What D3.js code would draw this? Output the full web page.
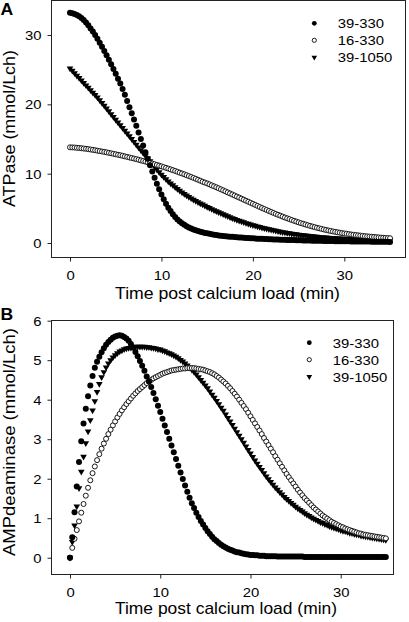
<!DOCTYPE html>
<html><head><meta charset="utf-8">
<script src="https://cdn.jsdelivr.net/npm/d3@7"></script>
<style>html,body{margin:0;padding:0;background:#fff;} svg{display:block;}</style>
</head><body>
<script>
// ---------- DATA ----------
const times = [
0,0.25,0.5,0.75, 1,1.25,1.5,1.75, 2,2.25,2.5,2.75, 3,3.25,3.5,3.75, 4,4.25,4.5,4.75,
5,5.25,5.5,5.75, 6,6.25,6.5,6.75, 7,7.25,7.5,7.75, 8,8.25,8.5,8.75, 9,9.25,9.5,9.75,
10,10.25,10.5,10.75, 11,11.25,11.5,11.75, 12,12.25,12.5,12.75, 13,13.25,13.5,13.75, 14,14.25,14.5,14.75,
15,15.25,15.5,15.75, 16,16.25,16.5,16.75, 17,17.25,17.5,17.75, 18,18.25,18.5,18.75, 19,19.25,19.5,19.75,
20,20.25,20.5,20.75, 21,21.25,21.5,21.75, 22,22.25,22.5,22.75, 23,23.25,23.5,23.75, 24,24.25,24.5,24.75,
25,25.25,25.5,25.75, 26,26.25,26.5,26.75, 27,27.25,27.5,27.75, 28,28.25,28.5,28.75, 29,29.25,29.5,29.75,
30,30.25,30.5,30.75, 31,31.25,31.5,31.75, 32,32.25,32.5,32.75, 33,33.25,33.5,33.75, 34,34.25,34.5,34.75,
35];

const seriesNames = ["39-330", "16-330", "39-1050"];

// Panel A: ATPase (mmol/Lch)
const atp_39_330 = [
33.2,33.15,33.05,32.9, 32.7,32.45,32.15,31.8, 31.4,30.95,30.5,30.0, 29.45,28.9,28.3,27.7, 27.1,26.45,25.8,25.1,
24.4,23.7,23.0,22.2, 21.4,20.5,19.6,18.7, 17.8,16.9,15.95,15.0, 14.05,13.1,12.15,11.2, 10.3,9.4,8.55,7.75,
7.0,6.3,5.65,5.1, 4.6,4.15,3.75,3.4, 3.1,2.85,2.62,2.42, 2.25,2.1,1.96,1.84, 1.73,1.63,1.54,1.46,
1.39,1.32,1.26,1.2, 1.15,1.1,1.06,1.02, 0.98,0.95,0.92,0.89, 0.86,0.83,0.8,0.78, 0.76,0.73,0.71,0.69,
0.67,0.65,0.63,0.62, 0.6,0.58,0.57,0.55, 0.54,0.52,0.51,0.5, 0.48,0.47,0.46,0.45, 0.44,0.43,0.42,0.41,
0.4,0.39,0.38,0.37, 0.36,0.35,0.34,0.33, 0.33,0.32,0.31,0.3, 0.3,0.29,0.28,0.28, 0.27,0.26,0.26,0.25,
0.25,0.24,0.24,0.23, 0.23,0.22,0.22,0.21, 0.21,0.2,0.2,0.2, 0.19,0.19,0.18,0.18, 0.18,0.17,0.17,0.17,
0.16];
const atp_16_330 = [
13.8,13.79,13.77,13.74, 13.71,13.67,13.63,13.59, 13.54,13.49,13.44,13.38, 13.32,13.26,13.2,13.14, 13.08,13.01,12.94,12.87,
12.8,12.73,12.66,12.58, 12.5,12.42,12.34,12.26, 12.18,12.1,12.01,11.92, 11.83,11.74,11.65,11.56, 11.46,11.36,11.26,11.16,
11.06,10.95,10.84,10.73, 10.62,10.51,10.39,10.27, 10.15,10.03,9.91,9.78, 9.65,9.52,9.39,9.26, 9.12,8.98,8.84,8.72,
8.6,8.46,8.32,8.18, 8.04,7.9,7.75,7.6, 7.45,7.3,7.15,7.0, 6.85,6.7,6.55,6.4, 6.25,6.1,5.95,5.8,
5.65,5.5,5.35,5.2, 5.05,4.9,4.76,4.62, 4.48,4.34,4.2,4.07, 3.94,3.81,3.68,3.56, 3.44,3.32,3.2,3.09,
2.98,2.87,2.77,2.67, 2.57,2.47,2.38,2.29, 2.2,2.12,2.04,1.96, 1.88,1.81,1.74,1.67, 1.61,1.55,1.49,1.43,
1.38,1.33,1.28,1.23, 1.19,1.15,1.11,1.07, 1.03,0.99,0.96,0.93, 0.9,0.87,0.84,0.81, 0.78,0.76,0.73,0.71,
0.69];
const atp_39_1050 = [
25.2,24.85,24.5,24.15, 23.8,23.45,23.1,22.75, 22.4,22.05,21.7,21.35, 21.0,20.6,20.2,19.8, 19.4,19.0,18.6,18.2,
17.8,17.4,17.0,16.6, 16.2,15.8,15.4,15.0, 14.6,14.2,13.8,13.4, 13.0,12.6,12.2,11.8, 11.4,11.0,10.6,10.22,
9.86,9.52,9.2,8.9, 8.61,8.33,8.06,7.8, 7.55,7.31,7.08,6.86, 6.65,6.45,6.26,6.08, 5.9,5.72,5.55,5.38,
5.21,5.05,4.9,4.75, 4.6,4.45,4.3,4.15, 4.0,3.86,3.72,3.59, 3.46,3.34,3.22,3.1, 2.99,2.88,2.78,2.68,
2.58,2.49,2.4,2.31, 2.22,2.14,2.06,1.98, 1.91,1.84,1.77,1.7, 1.64,1.58,1.52,1.46, 1.41,1.36,1.31,1.26,
1.21,1.17,1.13,1.09, 1.05,1.01,0.97,0.94, 0.91,0.88,0.85,0.82, 0.79,0.76,0.74,0.72, 0.7,0.68,0.66,0.64,
0.62,0.6,0.58,0.56, 0.55,0.53,0.52,0.5, 0.49,0.48,0.46,0.45, 0.44,0.43,0.42,0.41, 0.4,0.39,0.38,0.37,
0.36];

// Panel B: AMPdeaminase (mmol/Lch)
const amp_39_330 = [
0,0.52,1.15,1.8, 2.42,2.95,3.4,3.77, 4.09,4.36,4.6,4.81, 4.96,5.09,5.2,5.3, 5.39,5.46,5.52,5.57,
5.6,5.62,5.63,5.62, 5.59,5.55,5.49,5.41, 5.32,5.21,5.1,4.98, 4.86,4.73,4.59,4.46, 4.32,4.17,4.01,3.85,
3.69,3.52,3.35,3.18, 3.01,2.84,2.67,2.5, 2.33,2.16,1.99,1.83, 1.67,1.52,1.38,1.26, 1.14,1.03,0.93,0.84,
0.75,0.67,0.6,0.53, 0.47,0.42,0.37,0.33, 0.29,0.26,0.23,0.2, 0.18,0.16,0.14,0.13, 0.11,0.1,0.09,0.08,
0.07,0.07,0.06,0.06, 0.05,0.05,0.05,0.04, 0.04,0.04,0.04,0.04, 0.03,0.03,0.03,0.03, 0.03,0.03,0.03,0.03,
0.03,0.03,0.03,0.03, 0.02,0.02,0.02,0.02, 0.02,0.02,0.02,0.02, 0.02,0.02,0.02,0.02, 0.02,0.02,0.02,0.02,
0.02,0.02,0.02,0.02, 0.02,0.02,0.02,0.02, 0.02,0.02,0.02,0.02, 0.02,0.02,0.02,0.02, 0.02,0.02,0.02,0.02,
0.02];
const amp_16_330 = [
0,0.25,0.48,0.7, 0.92,1.14,1.36,1.57, 1.77,1.96,2.14,2.31, 2.47,2.62,2.76,2.89, 3.01,3.13,3.24,3.35,
3.45,3.55,3.64,3.73, 3.81,3.89,3.96,4.03, 4.1,4.16,4.22,4.27, 4.32,4.37,4.42,4.46, 4.5,4.54,4.57,4.6,
4.63,4.66,4.68,4.7, 4.72,4.74,4.75,4.76, 4.77,4.78,4.79,4.79, 4.8,4.8,4.8,4.8, 4.79,4.78,4.77,4.76,
4.74,4.72,4.7,4.67, 4.64,4.6,4.56,4.51, 4.46,4.41,4.35,4.29, 4.22,4.15,4.08,4.0, 3.92,3.84,3.76,3.67,
3.58,3.49,3.4,3.31, 3.22,3.13,3.03,2.94, 2.85,2.76,2.67,2.57, 2.48,2.39,2.3,2.21, 2.12,2.04,1.96,1.88,
1.8,1.72,1.65,1.58, 1.51,1.45,1.39,1.33, 1.27,1.22,1.17,1.12, 1.07,1.03,0.99,0.95, 0.91,0.88,0.85,0.82,
0.79,0.77,0.74,0.72, 0.7,0.68,0.66,0.64, 0.62,0.61,0.59,0.58, 0.57,0.56,0.55,0.54, 0.53,0.52,0.51,0.5,
0.49];
const amp_39_1050 = [
0,0.4,0.82,1.3, 1.76,2.18,2.56,2.9, 3.2,3.48,3.73,3.96, 4.2,4.4,4.57,4.7, 4.82,4.92,5.0,5.07,
5.13,5.18,5.22,5.25, 5.28,5.3,5.31,5.32, 5.33,5.34,5.34,5.34, 5.34,5.34,5.33,5.33, 5.32,5.31,5.3,5.28,
5.27,5.25,5.23,5.2, 5.18,5.15,5.12,5.09, 5.05,5.01,4.97,4.92, 4.87,4.82,4.76,4.7, 4.64,4.57,4.5,4.43,
4.36,4.29,4.21,4.13, 4.05,3.97,3.89,3.8, 3.72,3.63,3.54,3.45, 3.36,3.27,3.18,3.09, 3.0,2.91,2.82,2.73,
2.64,2.55,2.46,2.38, 2.3,2.22,2.14,2.06, 1.99,1.92,1.85,1.78, 1.72,1.66,1.6,1.54, 1.49,1.44,1.39,1.34,
1.29,1.25,1.21,1.17, 1.13,1.09,1.06,1.02, 0.99,0.96,0.93,0.9, 0.88,0.85,0.83,0.8, 0.78,0.76,0.74,0.72,
0.7,0.68,0.67,0.65, 0.63,0.62,0.6,0.59, 0.58,0.56,0.55,0.54, 0.53,0.52,0.51,0.5, 0.49,0.48,0.47,0.46,
0.45];

const xTicks = [0, 10, 20, 30];
const yTicksA = [0, 10, 20, 30];
const yTicksB = [0, 1, 2, 3, 4, 5, 6];
const titleX = "Time post calcium load (min)";
const titleYA = "ATPase (mmol/Lch)";
const titleYB = "AMPdeaminase (mmol/Lch)";
const panelLabels = ["A", "B"];

// ---------- DRAWING ----------
const FONT = "'Liberation Sans', Arial, Helvetica, sans-serif";
const W = 409, H = 622;
const SX = 1.1; // slight horizontal text stretch seen in the reference
const svg = d3.select("body").append("svg")
  .attr("width", W).attr("height", H)
  .attr("font-family", FONT);
svg.append("rect").attr("width", W).attr("height", H).attr("fill", "#fff");

function drawPanel(o) {
  const x = d3.scaleLinear().domain(o.xDomain).range([o.left, o.right]);
  const y = d3.scaleLinear().domain(o.yDomain).range([o.bottom, o.top]);
  const g = svg.append("g");

  const ax = g.append("g").attr("transform", `translate(0,${o.bottom})`)
    .call(d3.axisBottom(x).tickValues(xTicks).tickSize(4).tickPadding(9).tickFormat(d3.format("d")));
  const ay = g.append("g").attr("transform", `translate(${o.left},0)`)
    .call(d3.axisLeft(y).tickValues(o.yTicks).tickSize(4).tickPadding(6).tickFormat(d3.format("d")));
  [ax, ay].forEach(a => {
    a.select(".domain").remove();
    a.attr("font-family", FONT).attr("font-size", 13.5);
    a.selectAll("line").attr("stroke", "#222");
    a.selectAll("text").attr("fill", "#000");
  });
  ax.selectAll("text").attr("transform", `scale(${SX},1)`);
  ay.selectAll("text").each(function () {
    const t = d3.select(this);
    const tx = +t.attr("x");
    t.attr("x", 0).attr("transform", `translate(${tx},0) scale(${SX},1)`);
  });

  // frame
  g.append("rect")
    .attr("x", o.left).attr("y", o.top)
    .attr("width", o.right - o.left).attr("height", o.bottom - o.top)
    .attr("fill", "none").attr("stroke", "#222").attr("stroke-width", 1);

  const pts = vals => times.map((t, i) => [t, vals[i]]);

  // 39-1050: filled down triangles
  g.append("g").selectAll("path").data(pts(o.s3)).join("path")
    .attr("d", d3.symbol().type(d3.symbolTriangle).size(19))
    .attr("transform", d => `translate(${x(d[0])},${y(d[1])}) rotate(180)`)
    .attr("fill", "#000");
  // 16-330: open circles
  g.append("g").selectAll("circle").data(pts(o.s2)).join("circle")
    .attr("cx", d => x(d[0])).attr("cy", d => y(d[1])).attr("r", 2.5)
    .attr("fill", "#fff").attr("stroke", "#000").attr("stroke-width", 0.9);
  // 39-330: filled circles
  g.append("g").selectAll("circle").data(pts(o.s1)).join("circle")
    .attr("cx", d => x(d[0])).attr("cy", d => y(d[1])).attr("r", 3)
    .attr("fill", "#000");

  // legend
  const lg = g.append("g");
  seriesNames.forEach((name, i) => {
    const ly = o.legY + i * 17;
    if (i === 0) lg.append("circle").attr("cx", o.legX).attr("cy", ly).attr("r", 2.4).attr("fill", "#000");
    if (i === 1) lg.append("circle").attr("cx", o.legX).attr("cy", ly).attr("r", 2.1)
      .attr("fill", "#fff").attr("stroke", "#000").attr("stroke-width", 0.9);
    if (i === 2) lg.append("path").attr("d", d3.symbol().type(d3.symbolTriangle).size(14))
      .attr("transform", `translate(${o.legX},${ly}) rotate(180)`).attr("fill", "#000");
    lg.append("text").attr("transform", `translate(${o.legTextX},${ly + 4.8}) scale(${SX},1)`)
      .attr("font-size", 13.5).attr("fill", "#000").text(name);
  });

  // x title
  g.append("text").attr("x", o.xTitleX).attr("y", o.xTitleY)
    .attr("text-anchor", "middle").attr("font-size", 17)
    .attr("textLength", o.xTitleLen).attr("lengthAdjust", "spacingAndGlyphs")
    .attr("fill", "#000").text(titleX);
  // y title
  g.append("text").attr("transform", `translate(15,${o.yTitleY}) rotate(-90)`)
    .attr("text-anchor", "middle").attr("font-size", 17)
    .attr("textLength", o.yTitleLen).attr("lengthAdjust", "spacingAndGlyphs")
    .attr("fill", "#000").text(o.yTitle);
  // panel label
  g.append("text").attr("transform", `translate(0.5,${o.labelY}) scale(${SX},1)`)
    .attr("font-size", 16).attr("font-weight", "bold").attr("fill", "#000").text(o.label);
}

drawPanel({
  left: 51.5, right: 405.5, top: 0.5, bottom: 257.5,
  xDomain: [-2.023, 36.69], yDomain: [-2.09, 34.98], yTicks: yTicksA,
  s1: atp_39_330, s2: atp_16_330, s3: atp_39_1050,
  legX: 314.3, legY: 23.3, legTextX: 337.7,
  xTitleX: 227.5, xTitleY: 298.5, xTitleLen: 225,
  yTitle: titleYA, yTitleY: 128.5, yTitleLen: 157,
  label: panelLabels[0], labelY: 14.5
});
drawPanel({
  left: 51.5, right: 393.5, top: 320.5, bottom: 574.5,
  xDomain: [-2.05, 35.85], yDomain: [-0.425, 6.005], yTicks: yTicksB,
  s1: amp_39_330, s2: amp_16_330, s3: amp_39_1050,
  legX: 309.3, legY: 342.7, legTextX: 332.7,
  xTitleX: 226, xTitleY: 613.5, xTitleLen: 222,
  yTitle: titleYB, yTitleY: 442, yTitleLen: 228,
  label: panelLabels[1], labelY: 319.5
});
</script>
</body></html>
